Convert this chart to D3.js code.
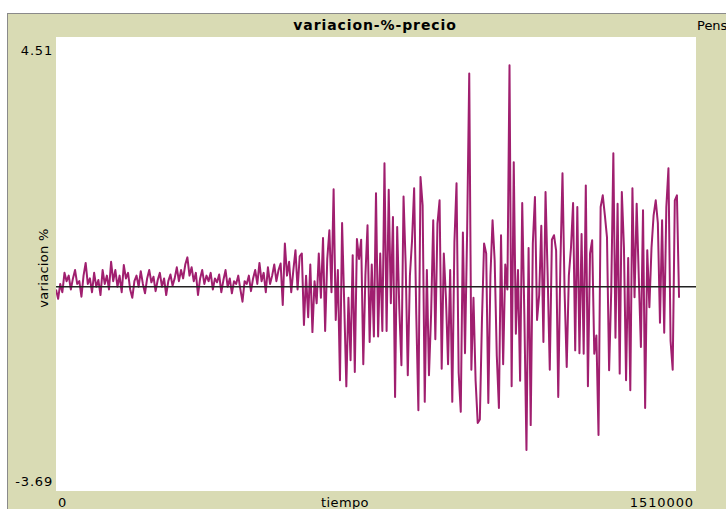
<!DOCTYPE html>
<html>
<head>
<meta charset="utf-8">
<script src="https://cdn.jsdelivr.net/npm/d3@7"></script>
<style>
  html, body { margin: 0; padding: 0; background: #fff; }
  #plot { width: 726px; height: 509px; }
  text { font-family: "DejaVu Sans", sans-serif; }
</style>
</head>
<body>
<div id="plot"></div>
<script>
// variacion % del precio, un valor cada 5000 ticks
var title = 'variacion-%-precio'
var xLabel = 'tiempo'
var yLabel = 'variacion %'
var xDomain = [0, 1510000]
var yDomain = [-3.69, 4.51]
var xTickLabels = ['0', '1510000']
var yTickLabels = ['4.51', '-3.69']
var tickStep = 5000

var variacion = [
  -0.05, -0.22, 0.05, -0.1, 0.25, 0.1, 0.2, -0.05, 0.15, 0.3,
  0.05, 0.1, -0.18, 0.2, 0.43, 0.05, 0.15, -0.1, 0.25, 0.0,
  0.12, -0.15, 0.3, 0.05, 0.2, -0.05, 0.45, 0.1, 0.3, 0.0,
  0.2, -0.1, 0.39, 0.15, 0.25, -0.05, -0.2, 0.1, 0.2, 0.0,
  0.28, 0.05, -0.12, 0.15, 0.3, 0.08, 0.18, -0.08, 0.12, 0.25,
  0.0, 0.15, -0.15, 0.1, 0.22, 0.02, 0.15, 0.35, 0.1, 0.3,
  0.15, 0.4, 0.53, 0.2, 0.35, 0.1, 0.25, -0.15, 0.15, 0.3,
  0.05, 0.2, 0.1, 0.25, -0.05, 0.15, 0.08, 0.22, -0.1, 0.12,
  0.3, 0.0, 0.15, -0.12, 0.1, 0.05, 0.2, -0.05, -0.27, 0.1,
  0.05, 0.2, -0.08, 0.15, 0.3, 0.05, 0.43, 0.1, 0.25, -0.1,
  0.35, 0.05, 0.2, 0.4, 0.1, 0.3, 0.42, -0.33, 0.78, 0.2,
  0.45, -0.1, 0.3, 0.66, -0.05, 0.55, 0.6, -0.69, 0.2, -0.55,
  0.4, -0.82, 0.1, -0.3, 0.6, -0.2, 0.88, -0.8, 0.5, 1.02,
  -0.1, 1.76, -0.6, 0.3, -1.69, 1.15, -0.3, -1.8, -0.2, -1.33,
  0.57, -1.54, 0.86, 0.5, 0.85, -1.4, 0.2, 1.11, -1.0, 0.4,
  -0.9, 1.69, -0.9, 0.6, -0.8, 2.23, -0.8, 1.75, -0.3, 1.26,
  -1.99, 1.08, -0.4, -1.42, 1.63, 0.4, -1.6, 0.2, 0.83, 1.78,
  -0.5, -2.23, 1.98, 1.47, -2.08, 0.3, -1.6, -0.5, 1.2, -0.95,
  1.14, 1.56, -1.48, 0.6, -0.2, -1.4, 0.3, -2.08, 0.8, 1.87,
  -1.55, -2.26, 0.98, -1.2, 0.98, 3.85, -1.5, -0.2, -1.7, -2.46,
  -2.4, -0.6, 0.78, 0.6, -2.1, 0.2, 1.2, 0.47, -1.25, -2.19,
  0.93, -1.4, 0.4, -0.05, 4.0, -1.8, 2.25, -0.85, 0.3, -1.7,
  1.51, -0.5, -2.95, 0.7, -2.5, 0.78, 1.62, -0.6, -0.15, 1.1,
  -1.0, 1.71, 0.2, -1.5, 0.85, 0.93, 0.65, -1.99, 0.4, 2.05,
  -0.1, -1.45, 0.2, 0.7, 1.51, -1.15, 1.44, -1.2, 0.95, -1.21,
  1.83, -1.8, 0.6, 0.84, -1.21, -0.88, -2.68, 1.44, 1.65, 1.29,
  0.89, -1.51, -0.08, 2.41, -0.92, 1.5, -1.57, 1.71, 0.71, -1.69,
  0.52, -1.87, 1.78, -0.19, 1.5, 0.17, -1.09, 1.38, -2.19, 0.66,
  -0.37, 0.7, 1.29, 1.56, 1.15, -0.65, 1.2, -0.83, 1.44, 2.14,
  -0.98, -1.5, 1.56, 1.65, -0.2
]

var W = 726
var H = 509
var box = {left: 56, right: 696, top: 37, bottom: 491}

var svg = d3.select('#plot').append('svg')
    .attr('width', W)
    .attr('height', H)

// panel
svg.append('rect')
    .attr('x', 7.5)
    .attr('y', 13.5)
    .attr('width', W)
    .attr('height', H)
    .attr('fill', '#d9dbb4')
    .attr('stroke', '#8a8a8a')
    .attr('stroke-width', 1)

svg.append('rect')
    .attr('x', box.left)
    .attr('y', box.top)
    .attr('width', box.right - box.left)
    .attr('height', box.bottom - box.top)
    .attr('fill', '#ffffff')

var x = d3.scaleLinear().domain(xDomain).range([box.left, box.right])
var y = d3.scaleLinear().domain(yDomain).range([box.bottom, box.top])

svg.append('defs').append('clipPath')
    .attr('id', 'clip')
    .append('rect')
    .attr('x', box.left)
    .attr('y', box.top)
    .attr('width', box.right - box.left)
    .attr('height', box.bottom - box.top)

var g = svg.append('g').attr('clip-path', 'url(#clip)')

var line = d3.line()
    .x(function (d, i) { return x(i * tickStep) })
    .y(function (d) { return y(d) })

g.append('path')
    .datum(variacion)
    .attr('fill', 'none')
    .attr('stroke', '#a01f6f')
    .attr('stroke-width', 2)
    .attr('stroke-linejoin', 'round')
    .attr('d', line)

// linea del cero
g.append('line')
    .attr('x1', x(xDomain[0]))
    .attr('x2', x(xDomain[1]))
    .attr('y1', y(0))
    .attr('y2', y(0))
    .attr('stroke', '#222')
    .attr('stroke-width', 1.5)

// textos
svg.append('text')
    .attr('x', 375)
    .attr('y', 30)
    .attr('text-anchor', 'middle')
    .attr('font-size', 14)
    .attr('font-weight', 'bold')
    .attr('letter-spacing', 0.9)
    .attr('fill', '#000')
    .text(title)

svg.append('text')
    .attr('x', 697)
    .attr('y', 30)
    .attr('font-size', 13)
    .attr('fill', '#000')
    .text('Pens')

svg.selectAll('.ylab')
    .data(yTickLabels)
    .enter()
    .append('text')
    .attr('class', 'ylab')
    .attr('x', box.left - 3)
    .attr('y', function (d) { return y(+d) + (+d > 0 ? 18 : -5) })
    .attr('text-anchor', 'end')
    .attr('font-size', 13)
    .attr('letter-spacing', 0.8)
    .attr('fill', '#000')
    .text(function (d) { return d })

svg.selectAll('.xlab')
    .data(xTickLabels)
    .enter()
    .append('text')
    .attr('class', 'xlab')
    .attr('x', function (d) { return x(+d) + (+d > 0 ? -2 : 2) })
    .attr('y', 507)
    .attr('text-anchor', function (d) { return +d > 0 ? 'end' : 'start' })
    .attr('font-size', 13)
    .attr('letter-spacing', 0.9)
    .attr('fill', '#000')
    .text(function (d) { return d })

svg.append('text')
    .attr('x', 345)
    .attr('y', 507)
    .attr('text-anchor', 'middle')
    .attr('font-size', 13)
    .attr('letter-spacing', 0.4)
    .attr('fill', '#000')
    .text(xLabel)

svg.append('text')
    .attr('transform', 'translate(48,' + 268 + ') rotate(-90)')
    .attr('text-anchor', 'middle')
    .attr('font-size', 13)
    .attr('letter-spacing', 0.3)
    .attr('fill', '#000')
    .text(yLabel)
</script>
</body>
</html>
